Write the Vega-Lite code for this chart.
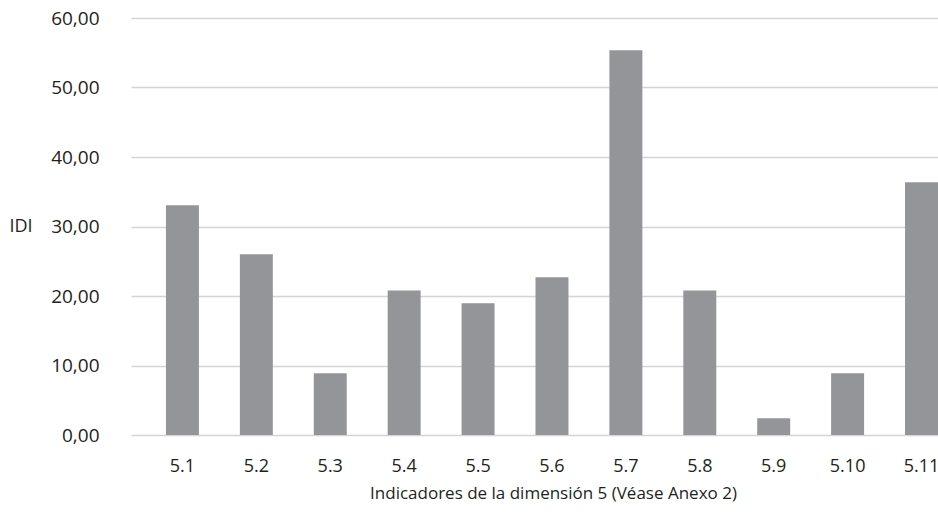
{
  "$schema": "https://vega.github.io/schema/vega-lite/v6.json",
  "autosize": {"type": "none"},
  "padding": {"left": 131, "top": 18, "right": 0, "bottom": 80},
  "width": 807,
  "height": 417,
  "background": "white",
  "config": {
    "locale": {"number": {"decimal": ",", "thousands": ".", "grouping": [3], "currency": ["", " €"]}},
    "view": {"stroke": null},
    "font": "Open Sans"
  },
  "data": {
    "values": [
      {"indicador": "5.1", "IDI": 33.05},
      {"indicador": "5.2", "IDI": 26.0},
      {"indicador": "5.3", "IDI": 8.88},
      {"indicador": "5.4", "IDI": 20.8},
      {"indicador": "5.5", "IDI": 18.95},
      {"indicador": "5.6", "IDI": 22.7},
      {"indicador": "5.7", "IDI": 55.35},
      {"indicador": "5.8", "IDI": 20.8},
      {"indicador": "5.9", "IDI": 2.4},
      {"indicador": "5.10", "IDI": 8.9},
      {"indicador": "5.11", "IDI": 36.36}
    ]
  },
  "mark": {"type": "bar", "color": "#939598"},
  "encoding": {
    "x": {
      "field": "indicador",
      "type": "nominal",
      "sort": null,
      "scale": {"paddingInner": 0.554, "paddingOuter": 0.2365, "align": 1},
      "axis": {
        "title": "Indicadores de la dimensión 5 (Véase Anexo 2)",
        "labelAngle": 0,
        "labelFontSize": 18,
        "labelColor": "#231f20",
        "labelPadding": 22,
        "domain": false,
        "ticks": false,
        "titleFontSize": 17,
        "titleFontWeight": "normal",
        "titleColor": "#231f20",
        "titleX": 422,
        "titleY": 50,
        "titleAlign": "center",
        "titleAnchor": null
      }
    },
    "y": {
      "field": "IDI",
      "type": "quantitative",
      "scale": {"domain": [0, 60], "nice": false},
      "axis": {
        "title": "IDI",
        "values": [0, 10, 20, 30, 40, 50, 60],
        "format": ".2f",
        "labelFontSize": 19,
        "labelColor": "#231f20",
        "labelPadding": 32,
        "domain": false,
        "ticks": false,
        "grid": true,
        "gridColor": "#d4d4d4",
        "gridWidth": 1.5,
        "titleAngle": 0,
        "titleFontSize": 18,
        "titleFontWeight": "normal",
        "titleColor": "#231f20",
        "titleX": -122,
        "titleY": 208,
        "titleAlign": "left",
        "titleBaseline": "middle"
      }
    }
  }
}
